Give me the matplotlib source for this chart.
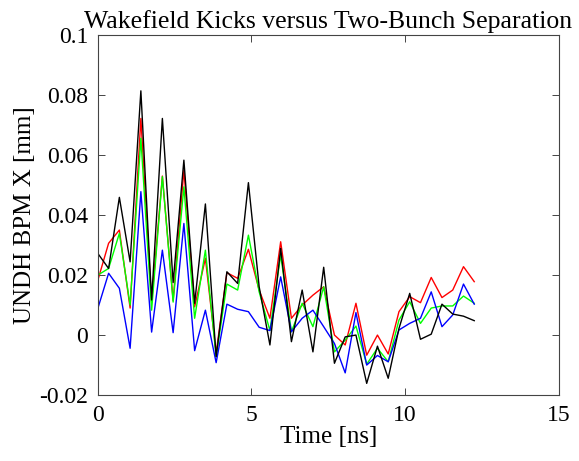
import matplotlib
matplotlib.use("Agg")
import matplotlib.pyplot as plt
import numpy as np

plt.rcParams['font.family'] = ['Liberation Serif', 'DejaVu Serif']

# bunch spacing 0.35 ns (S-band buckets)
n_pts = 36
t_ns = np.arange(n_pts) * 0.35

red = [0.0183, 0.0306, 0.0350, 0.0090, 0.0722, 0.0110, 0.0530, 0.0115, 0.0550,
       0.0094, 0.0256, -0.0060, 0.0208, 0.0189, 0.0286, 0.0150, 0.0056, 0.0311,
       0.0056, 0.0100, 0.0133, 0.0161, 0.0000, -0.0033, 0.0106, -0.0067, 0.0000,
       -0.0063, 0.0078, 0.0128, 0.0108, 0.0192, 0.0125, 0.0150, 0.0228, 0.0178]
green = [0.0200, 0.0222, 0.0339, 0.0100, 0.0656, 0.0083, 0.0528, 0.0110, 0.0494,
         0.0056, 0.0283, -0.0072, 0.0170, 0.0150, 0.0333, 0.0144, 0.0015, 0.0267,
         0.0011, 0.0106, 0.0028, 0.0161, -0.0056, -0.0017, 0.0030, -0.0097, -0.0044,
         -0.0089, 0.0050, 0.0111, 0.0039, 0.0090, 0.0097, 0.0097, 0.0130, 0.0106]
blue = [0.0089, 0.0206, 0.0156, -0.0044, 0.0478, 0.0010, 0.0283, 0.0008, 0.0372,
        -0.0052, 0.0083, -0.0092, 0.0103, 0.0086, 0.0078, 0.0026, 0.0015, 0.0194,
        0.0011, 0.0056, 0.0083, 0.0028, -0.0028, -0.0126, 0.0075, -0.0100, -0.0068,
        -0.0089, 0.0017, 0.0039, 0.0056, 0.0144, 0.0028, 0.0067, 0.0170, 0.0103]
black = [0.0272, 0.0222, 0.0459, 0.0244, 0.0814, 0.0117, 0.0722, 0.0175, 0.0583,
         0.0106, 0.0437, -0.0072, 0.0211, 0.0172, 0.0508, 0.0161, -0.0033, 0.0289,
         -0.0022, 0.0150, -0.0056, 0.0226, -0.0094, -0.0006, 0.0000, -0.0161, -0.0037,
         -0.0144, 0.0022, 0.0139, -0.0014, 0.0003, 0.0103, 0.0070, 0.0063, 0.0048]

fig = plt.figure(figsize=(5.79, 4.61), dpi=100)
ax = fig.add_axes([0.169, 0.143, 0.796, 0.781])

ax.plot(t_ns, red, color='#ff0000', lw=1.0)
ax.plot(t_ns, green, color='#00ff00', lw=1.0)
ax.plot(t_ns, blue, color='#0000ff', lw=1.0)
ax.plot(t_ns, black, color='k', lw=1.0)

ax.set_xlim(0, 15)
ax.set_ylim(-0.02, 0.1)
ax.set_xticks([0, 5, 10, 15])
ax.set_yticks([-0.02, 0, 0.02, 0.04, 0.06, 0.08, 0.1])
ax.set_yticklabels(['-0.02', '0', '0.02', '0.04', '0.06', '0.08', '0.1'])
ax.tick_params(direction='in', top=True, right=True, length=5,
               width=0.7, color='#444444', labelsize=17, pad=7)
for s in ax.spines.values():
    s.set_color('#444444')
    s.set_linewidth(0.8)

ax.set_xlabel('Time [ns]', fontsize=18, labelpad=0)
ax.set_ylabel('UNDH BPM X [mm]', fontsize=18, labelpad=2)
ax.set_title('Wakefield Kicks versus Two-Bunch Separation', fontsize=18.5, pad=5)

fig.savefig('out.png', dpi=100)
